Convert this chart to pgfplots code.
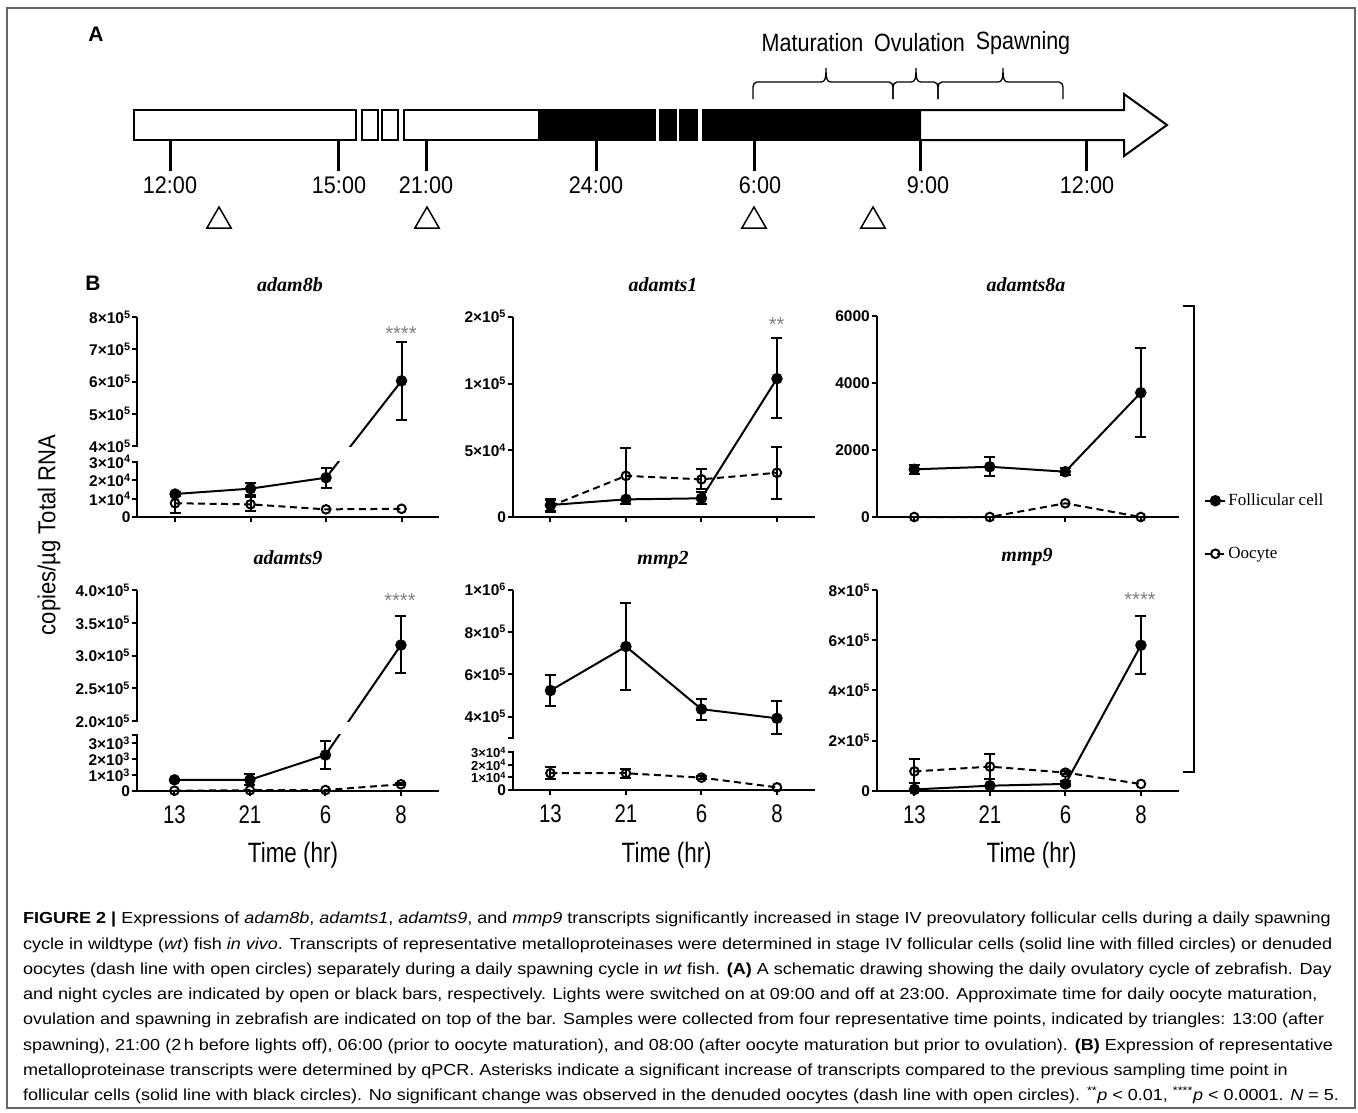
\documentclass[border=0pt]{standalone}
\usepackage{pgfplots}
\pgfplotsset{compat=1.18}
\usepackage{fontspec}
\setmainfont{Liberation Sans}
\newfontfamily\capfont[FakeStretch=1.125]{Liberation Sans}
\newfontfamily\narrowA[FakeStretch=0.86]{Liberation Sans}
\newfontfamily\narrowB[FakeStretch=0.8]{Liberation Sans}
\newfontfamily\narrowC[FakeStretch=0.9]{Liberation Sans}
\newfontfamily\timesf{Liberation Serif}
\newcommand\fs[1]{\fontsize{#1}{#1}\selectfont}
\newcommand\tx[2]{#1×10\textsuperscript{#2}}
\newcommand\txs[2]{{\fs{13}#1×10\textsuperscript{#2}}}
\definecolor{astgray}{gray}{0.5}
% piecewise y transformation for the broken axes, computed with the fpu
\newcommand\fpuset[1]{\begingroup\pgfkeys{/pgf/fpu=true,/pgf/fpu/output format=sci}%
  \pgfmathparse{#1}\xdef\fpuresult{\pgfmathresult}\endgroup\let\pgfmathresult\fpuresult}

\pgfplotsset{
  sub/.style={scale only axis, width=302pt, xmin=-0.5, xmax=3.5,
    axis x line=bottom, axis y line=left,
    axis line style={-, line width=2pt, black},
    tick align=outside, major tick length=5pt,
    tick style={black, line width=2pt},
    scaled y ticks=false,
    xtick={0,1,2,3}, xticklabels={,,,},
    xticklabel style={font=\narrowB\fs{25.5}, yshift=-6pt},
    yticklabel style={font=\bfseries\fs{15.5}, inner sep=1.5pt},
    clip=false, anchor=south west},
  fol/.style={black, line width=2pt, solid, mark=*, mark size=4.7pt, mark options={solid, fill=black}},
  ooc/.style={black, line width=2pt, dash pattern=on 7pt off 4.5pt, mark=o, mark size=4.3pt, mark options={solid}},
  eb/.style={black, line width=2pt, solid, mark=-, mark size=5.5pt, mark options={solid}, forget plot},
}
\newcommand\eb[3]{\addplot[eb] coordinates {(#1,#2) (#1,#3)};}
\newcommand\brc[3]{\draw[line width=1.3pt] (#1,99) -- (#1,87) to[out=90,in=180] (#1+4,82) -- (#2-5,82)
  .. controls (#2-1,82) and (#2,79) .. (#2,68) .. controls (#2,79) and (#2+1,82) .. (#2+5,82)
  -- (#3-4,82) to[out=0,in=90] (#3,87) -- (#3,99);}

\begin{document}
\begin{tikzpicture}[x=1pt,y=-1pt]
\path (0,0) rectangle (1358,1112);
\draw[black!60, line width=1.5pt] (7,8) rectangle (1355,1108);

% ---------- panel A ----------
\node[font=\bfseries\fs{21}] at (96,34) {A};
\begin{axis}[at={(0pt,0pt)}, anchor=north west, scale only axis, width=1358pt, height=250pt,
  xmin=0, xmax=1358, ymin=0, ymax=250, y dir=reverse, hide axis, clip=false]
\addplot[draw=black, fill=white, line width=2pt] coordinates {(133.6,110) (356,110) (356,140) (133.6,140)} -- cycle;
\addplot[draw=black, fill=white, line width=2pt] coordinates {(362,110) (378,110) (378,140) (362,140)} -- cycle;
\addplot[draw=black, fill=white, line width=2pt] coordinates {(382,110) (398,110) (398,140) (382,140)} -- cycle;
\addplot[draw=black, fill=white, line width=2pt] coordinates {(403.6,110) (539,110) (539,140) (403.6,140)} -- cycle;
\addplot[draw=black, fill=black, line width=2pt] coordinates {(539,110) (655,110) (655,140) (539,140)} -- cycle;
\addplot[draw=black, fill=black, line width=2pt] coordinates {(659.5,110) (676,110) (676,140) (659.5,140)} -- cycle;
\addplot[draw=black, fill=black, line width=2pt] coordinates {(680,110) (697,110) (697,140) (680,140)} -- cycle;
\addplot[draw=black, fill=black, line width=2pt] coordinates {(703,110) (920,110) (920,140) (703,140)} -- cycle;
\addplot[draw=black, fill=white, line width=2pt] coordinates {(920,110) (1124,110) (1124,94) (1167,125) (1124,156) (1124,140) (920,140)} -- cycle;
\addplot[only marks, mark=triangle, mark size=14pt, line width=1.5pt, black] coordinates {(219,221) (427,221) (754,221) (873,221)};
\end{axis}
\foreach \x in {170.6,338,426,596.5,754,920,1086} \draw[line width=3pt] (\x,140) -- (\x,171);
\foreach \x/\t in {170/12:00,339/15:00,426/21:00,596/24:00,760/6:00,928/9:00,1087/12:00}
  \node[font=\narrowC\fs{24}] at (\x,185) {\t};
\brc{753}{826}{893}
\brc{893}{916}{938}
\brc{938}{1003}{1063}
\node[font=\narrowA\fs{25}] at (812.5,43) {Maturation};
\node[font=\narrowA\fs{25}] at (919.5,43) {Ovulation};
\node[font=\narrowA\fs{25}] at (1023,43) {Spawning};

% ---------- panel B ----------
\node[font=\bfseries\fs{21}] at (93,283) {B};
\node[rotate=90, font=\narrowC\fs{24.5}] at (49,535) {copies/µg Total RNA};

% adam8b
\begin{axis}[sub, name=p1, at={(137.3pt,-517.3pt)}, height=200.3pt,
  y coord trafo/.code={\fpuset{(#1<2e5) ? (#1*18.5/1e4) : (71.3+(#1-4e5)*32.25/1e5)}},
  ymin=0, ymax=8e5,
  ytick={0,1e4,2e4,3e4,4e5,5e5,6e5,7e5,8e5},
  yticklabels={0,\tx14,\tx24,\tx34,\tx45,\tx55,\tx65,\tx75,\tx85}]
\eb{0}{1.16e4}{1.36e4} \eb{1}{1.22e4}{1.88e4} \eb{2}{1.61e4}{2.67e4} \eb{3}{4.82e5}{7.22e5}
\eb{0}{2.1e3}{1.31e4} \eb{1}{3.2e3}{1.08e4}
\addplot[fol] coordinates {(0,1.26e4) (1,1.55e4) (2,2.14e4) (3,6.02e5)};
\addplot[ooc] coordinates {(0,7.6e3) (1,7.0e3) (2,4.3e3) (3,4.6e3)};
\end{axis}
\fill[white] ([xshift=-4pt,yshift=56.6pt]p1.south west) rectangle ([yshift=70.2pt]p1.south east);

% adamts1
\begin{axis}[sub, at={(512.7pt,-517.3pt)}, height=200.6pt,
  ymin=0, ymax=1.5e5, ytick={0,5e4,1e5,1.5e5},
  yticklabels={0,\tx54,\tx15,\tx25}]
\eb{0}{4.5e3}{1.37e4} \eb{2}{9.7e3}{1.87e4} \eb{3}{7.43e4}{1.34e5}
\eb{0}{3.9e3}{1.29e4} \eb{1}{1.0e4}{5.2e4} \eb{2}{2.1e4}{3.58e4} \eb{3}{1.39e4}{5.27e4}
\addplot[fol] coordinates {(0,9.2e3) (1,1.34e4) (2,1.42e4) (3,1.037e5)};
\addplot[ooc] coordinates {(0,8.4e3) (1,3.1e4) (2,2.84e4) (3,3.33e4)};
\end{axis}

% adamts8a
\begin{axis}[sub, at={(876.5pt,-517pt)}, height=201pt,
  ymin=0, ymax=6000, ytick={0,2000,4000,6000},
  yticklabels={0,2000,4000,6000},
  legend image code/.code={\draw[mark repeat=2,mark phase=2,#1] plot coordinates {(0pt,0pt) (10pt,0pt) (20pt,0pt)};},
  legend style={at={(1.085,0.125)}, anchor=north west, draw=none, fill=none,
    font=\timesf\fs{17}, row sep=36pt, inner sep=0pt},
  legend cell align=left]
\eb{0}{1290}{1560} \eb{1}{1220}{1780} \eb{2}{1250}{1450} \eb{3}{2380}{5060}
\addplot[fol] coordinates {(0,1424) (1,1500) (2,1352) (3,3710)};
\addlegendentry{Follicular cell}
\addplot[ooc] coordinates {(0,0) (1,0) (2,409) (3,0)};
\addlegendentry{Oocyte}
\end{axis}

% adamts9
\begin{axis}[sub, name=p4, at={(136.7pt,-791pt)}, height=201pt,
  y coord trafo/.code={\fpuset{(#1<1e5) ? (#1*0.016) : (70+(#1-2e5)*65.5/1e5)}},
  ymin=0, ymax=4e5,
  ytick={0,1e3,2e3,3e3,3.5e3,2e5,2.5e5,3e5,3.5e5,4e5},
  yticklabels={0,\tx13,\tx23,\tx33,,\tx{2.0}5,\tx{2.5}5,\tx{3.0}5,\tx{3.5}5,\tx{4.0}5},
  xticklabels={13,21,6,8}]
\eb{0}{620}{780} \eb{1}{360}{1040} \eb{2}{1380}{3120} \eb{3}{2.74e5}{3.6e5}
\eb{3}{360}{480}
\addplot[fol] coordinates {(0,700) (1,700) (2,2250) (3,3.16e5)};
\addplot[ooc] coordinates {(0,20) (1,50) (2,60) (3,420)};
\end{axis}
\fill[white] ([xshift=-4pt,yshift=57pt]p4.south west) rectangle ([yshift=69pt]p4.south east);

% mmp2
\begin{axis}[sub, name=p5, at={(512.7pt,-790pt)}, height=200.5pt,
  y coord trafo/.code={\fpuset{(#1<1e5) ? (#1*12.6/1e4) : (52.15+(#1-3e5)*21.15/1e5)}},
  ymin=0, ymax=1e6,
  ytick={0,1e4,2e4,3e4,3e5,4e5,6e5,8e5,1e6},
  yticklabels={0,\txs14,\txs24,\txs34,,\tx45,\tx65,\tx85,\tx16},
  xticklabels={13,21,6,8}]
\eb{0}{4.52e5}{5.97e5} \eb{1}{5.25e5}{9.36e5} \eb{2}{3.84e5}{4.84e5} \eb{3}{3.17e5}{4.74e5}
\eb{0}{0.85e4}{1.8e4} \eb{1}{0.98e4}{1.68e4} \eb{2}{0.88e4}{1.08e4}
\addplot[fol] coordinates {(0,5.23e5) (1,7.31e5) (2,4.35e5) (3,3.92e5)};
\addplot[ooc] coordinates {(0,1.33e4) (1,1.33e4) (2,0.98e4) (3,2.1e3)};
\end{axis}
\fill[white] ([xshift=-4pt,yshift=38.8pt]p5.south west) rectangle ([yshift=51.2pt]p5.south east);

% mmp9
\begin{axis}[sub, at={(876.7pt,-790.7pt)}, height=200.7pt,
  ymin=0, ymax=8e5, ytick={0,2e5,4e5,6e5,8e5},
  yticklabels={0,\tx25,\tx45,\tx65,\tx85},
  xticklabels={13,21,6,8}]
\eb{2}{1.7e4}{3.7e4} \eb{3}{4.67e5}{6.95e5}
\eb{0}{3e4}{1.25e5} \eb{1}{4.7e4}{1.45e5} \eb{2}{6.5e4}{7.9e4}
\addplot[fol] coordinates {(0,5e3) (1,2e4) (2,2.7e4) (3,5.8e5)};
\addplot[ooc] coordinates {(0,7.7e4) (1,9.6e4) (2,7.2e4) (3,2.7e4)};
\end{axis}

% titles, asterisks, axis labels
\foreach \x/\y/\t in {290/285/adam8b,663/285/adamts1,1026/285/adamts8a,288/558/adamts9,663/560/mmp2,1027/557/mmp9}
  \node[font=\timesf\bfseries\itshape\fs{20}] at (\x,\y) {\t};
\node[font=\fs{20}, text=astgray] at (401,334) {****};
\node[font=\fs{20}, text=astgray] at (776.7,325) {**};
\node[font=\fs{20}, text=astgray] at (400,601) {****};
\node[font=\fs{20}, text=astgray] at (1140,600) {****};
\foreach \x in {293,666.7,1031.7}
  \node[font=\narrowB\fs{28}] at (\x,855) {Time (hr)};
\draw[line width=2pt] (1183,306) -- (1194.3,306) -- (1194.3,771.7) -- (1182.7,771.7);

% ---------- caption ----------
\begin{scope}[every node/.style={anchor=base west, inner sep=0pt, font=\capfont\fs{16}}]
\node at (23,923.8) {{\bfseries FIGURE 2 |} Expressions of \textit{adam8b}, \textit{adamts1}, \textit{adamts9}, and \textit{mmp9} transcripts significantly increased in stage IV preovulatory follicular cells during a daily spawning};
\node at (23,949.05) {cycle in wildtype (\textit{wt}) fish \textit{in vivo}. Transcripts of representative metalloproteinases were determined in stage IV follicular cells (solid line with filled circles) or denuded};
\node at (23,974.3) {oocytes (dash line with open circles) separately during a daily spawning cycle in \textit{wt} fish. \textbf{(A)} A schematic drawing showing the daily ovulatory cycle of zebrafish. Day};
\node at (23,999.55) {and night cycles are indicated by open or black bars, respectively. Lights were switched on at 09:00 and off at 23:00. Approximate time for daily oocyte maturation,};
\node at (23,1024.8) {ovulation and spawning in zebrafish are indicated on top of the bar. Samples were collected from four representative time points, indicated by triangles: 13:00 (after};
\node at (23,1050.05) {spawning), 21:00 (2\,h before lights off), 06:00 (prior to oocyte maturation), and 08:00 (after oocyte maturation but prior to ovulation). \textbf{(B)} Expression of representative};
\node at (23,1075.3) {metalloproteinase transcripts were determined by qPCR. Asterisks indicate a significant increase of transcripts compared to the previous sampling time point in};
\node at (23,1100.55) {follicular cells (solid line with black circles). No significant change was observed in the denuded oocytes (dash line with open circles). \textsuperscript{**}\textit{p} < 0.01, \textsuperscript{****}\textit{p} < 0.0001. \textit{N} = 5.};
\end{scope}
\pgfresetboundingbox
\useasboundingbox (0,0) rectangle (1358,1112);
\end{tikzpicture}
\end{document}
